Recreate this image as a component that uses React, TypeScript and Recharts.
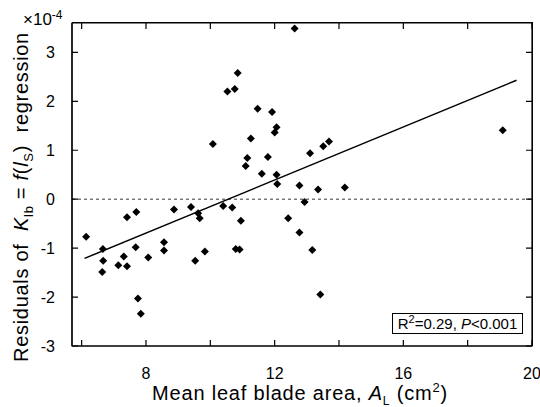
import { ScatterChart, Scatter, XAxis, YAxis, ReferenceLine, ReferenceArea } from 'recharts';

// leaf blade area (cm2) and residuals (x1e-4)
const leafArea = [
  6.14, 6.66, 6.67, 6.64, 7.14, 7.31, 7.41, 7.41, 7.68, 7.70, 7.75, 7.84, 8.07, 8.56, 8.56,
  8.87, 9.40, 9.53, 9.62, 9.67, 9.83, 10.08, 10.40, 10.53, 10.68, 10.76, 10.79, 10.85, 10.91,
  10.95, 11.10, 11.15, 11.26, 11.47, 11.60, 11.79, 11.92, 12.0, 12.06, 12.06, 12.08, 12.42,
  12.62, 12.77, 12.77, 12.93, 13.10, 13.17, 13.35, 13.42, 13.51, 13.69, 14.18, 19.09,
];
const residuals = [
  -0.77, -1.02, -1.26, -1.49, -1.35, -1.17, -1.37, -0.37, -0.98, -0.26, -2.03, -2.34, -1.19, -0.88, -1.05,
  -0.21, -0.16, -1.26, -0.29, -0.39, -1.07, 1.13, -0.14, 2.2, -0.17, 2.25, -1.02, 2.58, -1.03,
  -0.44, 0.68, 0.84, 1.24, 1.85, 0.52, 0.86, 1.78, 1.36, 1.47, 0.5, 0.31, -0.39,
  3.49, 0.28, -0.68, -0.06, 0.94, -1.04, 0.2, -1.95, 1.08, 1.18, 0.24, 1.41,
];
const fitArea = [6.09, 19.52];
const fitResidual = [-1.21, 2.43];

const xDomain = [5.7, 20];
const yDomain = [-3, 3.6];
const xTicks = [6, 8, 10, 12, 14, 16, 18, 20];
const xTickLabels = [8, 12, 16, 20];
const yTicks = [-3, -2, -1, 0, 1, 2, 3];

const points = leafArea.map((x, i) => ({ x, y: residuals[i] }));
const fitLine = fitArea.map((x, i) => ({ x, y: fitResidual[i] }));

const FONT = '"Liberation Sans", Arial, sans-serif';
const TICK = 6;
const W = 540;
const H = 407;
const PLOT_LEFT = 72;
const PLOT_TOP = 23;
const PLOT_RIGHT = 532;
const PLOT_BOTTOM = 346;

const Diamond = (props: any) => {
  const { cx, cy } = props;
  const r = 4;
  return <polygon points={`${cx},${cy - r} ${cx + r},${cy} ${cx},${cy + r} ${cx - r},${cy}`} fill="#000" />;
};

const NoDot = () => <g />;

// bottom tick: inward mark at bottom and top of the box, label below
const BottomTick = (props: any) => {
  const { x, y, payload } = props;
  return (
    <g>
      <path d={`M${x},${y}V${y - TICK}M${x},${PLOT_TOP}V${PLOT_TOP + TICK}`} stroke="#000" strokeWidth={1.2} fill="none" />
      {xTickLabels.includes(payload.value) && (
        <text x={x} y={y + 33} textAnchor="middle" fontSize={16} fontFamily={FONT} fill="#000">
          {payload.value}
        </text>
      )}
    </g>
  );
};

// left tick: inward mark at left and right of the box, label to the left
const LeftTick = (props: any) => {
  const { x, y, payload } = props;
  return (
    <g>
      <path d={`M${x},${y}H${x + TICK}M${PLOT_RIGHT},${y}H${PLOT_RIGHT - TICK}`} stroke="#000" strokeWidth={1.2} fill="none" />
      <text x={x - 17} y={y + 6} textAnchor="end" fontSize={16} fontFamily={FONT} fill="#000">
        {payload.value}
      </text>
    </g>
  );
};

export default function App() {
  return (
    <div style={{ position: 'absolute', left: 0, top: 0, width: W, height: H, background: '#fff', fontFamily: FONT }}>
      <ScatterChart
        width={W}
        height={H}
        margin={{ top: PLOT_TOP, right: W - PLOT_RIGHT, bottom: 0, left: 0 }}
      >
        <XAxis
          dataKey="x"
          type="number"
          domain={xDomain}
          ticks={xTicks}
          interval={0}
          allowDataOverflow
          height={H - PLOT_BOTTOM}
          tickSize={0}
          tickMargin={0}
          tick={<BottomTick />}
          axisLine={{ stroke: '#000', strokeWidth: 1.2 }}
        />
        <YAxis
          dataKey="y"
          type="number"
          domain={yDomain}
          ticks={yTicks}
          interval={0}
          allowDataOverflow
          width={PLOT_LEFT}
          tickSize={0}
          tickMargin={0}
          tick={<LeftTick />}
          axisLine={{ stroke: '#000', strokeWidth: 1.2 }}
        />
        {/* box round the plot area */}
        <ReferenceArea
          x1={xDomain[0]}
          x2={xDomain[1]}
          y1={yDomain[0]}
          y2={yDomain[1]}
          ifOverflow="visible"
          fill="none"
          fillOpacity={0}
          stroke="#000"
          strokeWidth={1.2}
        />
        <ReferenceLine y={0} stroke="#000" strokeDasharray="3 3" strokeWidth={0.8} />
        <Scatter data={fitLine} line={{ stroke: '#000', strokeWidth: 1.5 }} shape={<NoDot />} isAnimationActive={false} />
        <Scatter data={points} shape={<Diamond />} isAnimationActive={false} />
      </ScatterChart>

      {/* top and right edges of the box */}
      <div
        style={{
          position: 'absolute',
          left: PLOT_LEFT,
          top: PLOT_TOP - 1,
          width: PLOT_RIGHT - PLOT_LEFT + 1,
          height: 1,
          background: '#000',
        }}
      />
      <div
        style={{
          position: 'absolute',
          left: PLOT_RIGHT,
          top: PLOT_TOP - 1,
          width: 1,
          height: PLOT_BOTTOM - PLOT_TOP + 1,
          background: '#000',
        }}
      />

      <div style={{ position: 'absolute', left: 23, top: 11, fontSize: 17, lineHeight: '18px', whiteSpace: 'nowrap' }}>
        ×10<sup style={{ fontSize: 12, lineHeight: 0, verticalAlign: 6 }}>-4</sup>
      </div>

      <div
        style={{
          position: 'absolute',
          left: 23,
          top: 197,
          transform: 'translate(-50%, -50%) rotate(-90deg)',
          fontSize: 20,
          letterSpacing: 0.7,
          whiteSpace: 'nowrap',
        }}
      >
        Residuals of&nbsp; <i>K</i>
        <sub style={{ fontSize: 13 }}>lb</sub> = <i>f</i>(<i>l</i>
        <sub style={{ fontSize: 13 }}>S</sub>)&nbsp; regression
      </div>

      <div
        style={{
          position: 'absolute',
          left: 0,
          width: 600,
          top: 383,
          textAlign: 'center',
          fontSize: 20,
          lineHeight: '20px',
          letterSpacing: 0.8,
          whiteSpace: 'nowrap',
        }}
      >
        Mean leaf blade area, <i>A</i>
        <sub style={{ fontSize: 12, lineHeight: 0 }}>L</sub> (cm
        <sup style={{ fontSize: 13, lineHeight: 0, verticalAlign: 8 }}>2</sup>)
      </div>

      <div
        style={{
          position: 'absolute',
          left: 392,
          top: 313,
          width: 129,
          height: 19,
          border: '1px solid #000',
          background: '#fff',
          fontSize: 15,
          lineHeight: '20px',
          textAlign: 'center',
          whiteSpace: 'nowrap',
        }}
      >
        R<sup style={{ fontSize: 11, lineHeight: 0, verticalAlign: 6 }}>2</sup>=0.29, <i>P</i>&lt;0.001
      </div>
    </div>
  );
}
